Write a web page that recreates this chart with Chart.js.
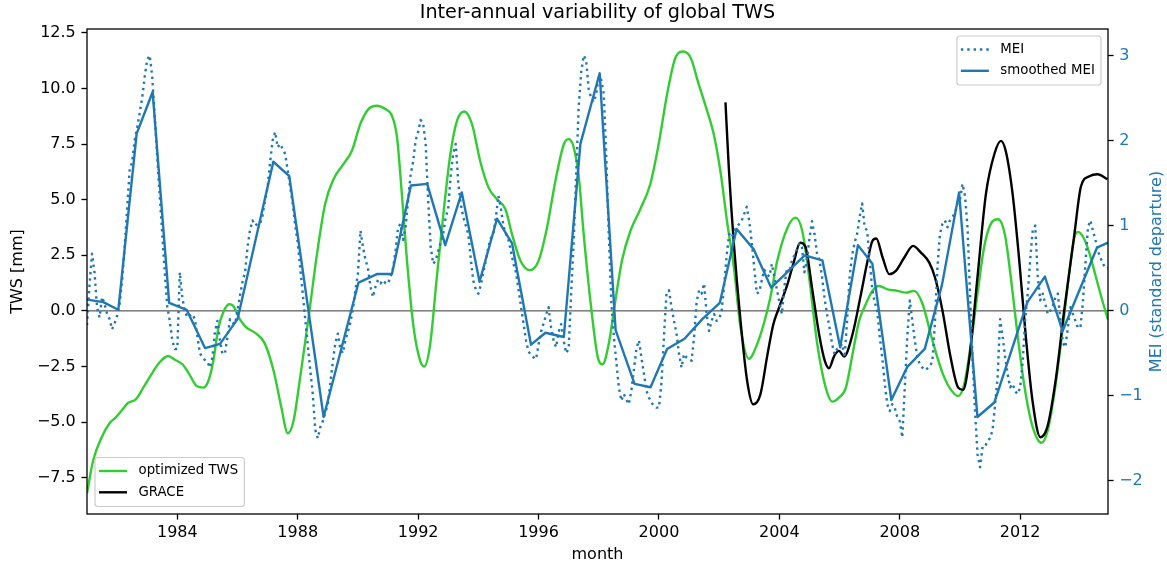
<!DOCTYPE html>
<html>
<head>
<meta charset="utf-8">
<title>Inter-annual variability of global TWS</title>
<script src="https://cdn.jsdelivr.net/npm/chart.js@4/dist/chart.umd.min.js"></script>
<style>
  html, body { margin: 0; padding: 0; background: #fff; }
  #chart { display: block; }
</style>
</head>
<body>
<canvas id="chart" width="1167" height="568"></canvas>
<script>
// axis ticks
const yearTicks = [1984, 1988, 1992, 1996, 2000, 2004, 2008, 2012];
const twsTicks = [-7.5, -5, -2.5, 0, 2.5, 5, 7.5, 10, 12.5];
const meiTicks = [-2, -1, 0, 1, 2, 3];

// monthly MEI, Jan 1981 .. Dec 2014 (one row per year)
const meiFirstYear = 1981;
const meiValues = [
  -0.17, 0.3, 0.67, 0.45, 0.04, -0.08, 0.16, 0.08, -0.04, -0.1, -0.22, -0.15,
  -0.06, 0.08, 0.36, 0.75, 1.2, 1.65, 1.75, 2.0, 2.15, 2.32, 2.5, 2.75,
  2.95, 3.0, 2.75, 2.28, 1.8, 1.35, 0.9, 0.45, 0.05, -0.12, -0.35, -0.45,
  -0.45, 0.45, 0.15, 0.0, -0.08, -0.06, -0.04, -0.1, -0.3, -0.5, -0.55, -0.58,
  -0.6, -0.67, -0.55, -0.25, -0.12, -0.35, -0.51, -0.5, -0.31, -0.1, -0.14, -0.16,
  0.0, 0.18, 0.34, 0.45, 0.75, 0.95, 1.06, 1.0, 1.02, 1.02, 1.12, 1.3,
  1.45, 1.75, 2.0, 2.1, 1.92, 1.96, 1.9, 1.84, 1.65, 1.45, 1.26, 1.0,
  0.8, 0.5, 0.2, -0.1, -0.4, -0.7, -0.98, -1.4, -1.5, -1.37, -1.3, -1.2,
  -1.1, -0.85, -0.6, -0.38, -0.27, -0.45, -0.5, -0.35, -0.25, -0.14, 0.02, 0.24,
  0.43, 0.94, 0.75, 0.6, 0.5, 0.28, 0.16, 0.28, 0.36, 0.32, 0.36, 0.32,
  0.32, 0.4, 0.5, 0.7, 0.98, 1.02, 0.83, 0.98, 1.3, 1.6, 1.75, 2.0,
  2.1, 2.24, 2.2, 1.96, 1.3, 0.75, 0.55, 0.59, 0.7, 0.8, 0.9, 1.1,
  1.2, 1.6, 1.85, 1.96, 1.5, 1.25, 1.1, 1.0, 0.9, 0.6, 0.35, 0.25,
  0.2, 0.3, 0.45, 0.59, 0.75, 0.85, 0.9, 1.1, 1.35, 1.2, 1.0, 0.9,
  0.83, 0.7, 0.55, 0.45, 0.25, 0.05, -0.15, -0.35, -0.48, -0.52, -0.55, -0.57,
  -0.4, -0.25, -0.15, -0.05, 0.04, -0.2, -0.35, -0.43, -0.25, -0.16, -0.35, -0.5,
  -0.45, 0.2, 0.8, 1.6, 2.4, 2.8, 3.0, 2.94, 2.6, 2.5, 2.45, 2.55,
  2.75, 2.71, 2.55, 1.8, 0.9, 0.1, -0.3, -0.6, -0.9, -1.06, -0.98, -1.05,
  -1.1, -0.94, -0.7, -0.45, -0.35, -0.55, -0.74, -0.94, -1.02, -1.08, -1.12, -1.14,
  -1.14, -0.85, -0.3, 0.2, 0.24, 0.04, -0.12, -0.27, -0.51, -0.67, -0.51, -0.55,
  -0.57, -0.59, -0.31, 0.1, 0.24, 0.2, 0.32, -0.04, -0.24, -0.12, -0.04, -0.12,
  -0.1, 0.0, 0.3, 0.65, 0.9, 0.86, 0.94, 0.98, 1.02, 1.06, 1.14, 1.22,
  1.05, 0.8, 0.5, 0.2, 0.22, 0.36, 0.48, 0.43, 0.4, 0.55, 0.4, 0.25,
  0.1, -0.04, 0.28, 0.5, 0.45, 0.59, 0.65, 0.72, 0.79, 0.75, 0.45, 0.6,
  0.85, 1.05, 0.9, 0.67, 0.59, 0.4, 0.15, -0.04, -0.2, -0.39, -0.51, -0.45,
  -0.43, -0.39, -0.55, -0.12, 0.4, 0.65, 0.8, 0.9, 1.1, 1.26, 0.98, 0.94,
  0.6, 0.25, 0.1, 0.0, -0.3, -0.55, -0.85, -1.1, -1.18, -1.1, -1.14, -1.25,
  -1.3, -1.49, -0.9, -0.3, 0.12, -0.12, -0.35, -0.55, -0.63, -0.67, -0.7, -0.68,
  -0.65, -0.6, -0.15, 0.5, 0.9, 1.02, 1.06, 0.98, 1.06, 1.1, 1.15, 1.26,
  1.3, 1.49, 1.35, 0.98, 0.2, -0.55, -1.18, -1.69, -1.84, -1.6, -1.6, -1.53,
  -1.5, -1.4, -1.1, -0.78, -0.1, -0.3, -0.55, -0.75, -0.9, -0.86, -0.95, -0.98,
  -0.9, -0.6, -0.1, 0.2, 0.6, 0.95, 1.0, 0.4, 0.12, 0.2, 0.08, -0.04,
  0.0, 0.05, 0.15, 0.2, -0.1, -0.38, -0.43, -0.2, 0.04, -0.04, -0.12, -0.2,
  -0.2, 0.1, 0.55, 0.98, 1.06, 0.94, 0.83, 0.7, 0.62, 0.55, 0.5, 0.5
];

// smoothed MEI (piecewise linear)
const smoothYears = [
  1981.0, 1981.54, 1982.04, 1982.65, 1983.18, 1983.73, 1984.31, 1984.92, 1985.42, 1986.0,
  1987.19, 1987.72, 1988.86, 1990.02, 1990.63, 1991.13, 1991.76, 1992.3, 1992.9, 1993.45,
  1994.04, 1994.62, 1995.12, 1995.75, 1996.23, 1996.84, 1997.39, 1998.03, 1998.56, 1999.19,
  1999.72, 2000.27, 2000.85, 2001.44, 2002.02, 2002.58, 2003.15, 2003.73, 2004.84, 2005.43,
  2006.02, 2006.61, 2007.09, 2007.72, 2008.25, 2008.83, 2009.4, 2009.97, 2010.58, 2011.14,
  2012.24, 2012.82, 2013.41, 2014.55, 2014.917
];
const smoothValues = [
  0.13, 0.10, 0.01, 2.08, 2.57, 0.09, 0.01, -0.44, -0.39, -0.10,
  1.75, 1.58, -1.25, 0.33, 0.43, 0.43, 1.47, 1.49, 0.77, 1.39,
  0.34, 1.08, 0.79, -0.40, -0.26, -0.31, 1.96, 2.79, -0.23, -0.86,
  -0.90, -0.45, -0.33, -0.10, 0.09, 0.96, 0.72, 0.27, 0.65, 0.59,
  -0.43, 0.77, 0.55, -1.05, -0.66, -0.45, 0.30, 1.39, -1.25, -1.08,
  0.10, 0.40, -0.24, 0.74, 0.80
];

// optimized TWS [mm]
const twsYears = [
  1981.0, 1981.2, 1981.48, 1981.76, 1981.95, 1982.14, 1982.37, 1982.62, 1982.87, 1983.14,
  1983.42, 1983.7, 1983.92, 1984.17, 1984.4, 1984.64, 1984.86, 1985.03, 1985.19, 1985.36,
  1985.53, 1985.72, 1985.86, 1986.08, 1986.3, 1986.6, 1986.9, 1987.2, 1987.45, 1987.67,
  1987.86, 1988.08, 1988.36, 1988.64, 1988.91, 1989.19, 1989.52, 1989.8, 1990.08, 1990.35,
  1990.63, 1990.91, 1991.13, 1991.3, 1991.46, 1991.63, 1991.85, 1992.07, 1992.2, 1992.4,
  1992.62, 1992.85, 1993.07, 1993.29, 1993.53, 1993.79, 1994.06, 1994.34, 1994.62, 1994.9,
  1995.12, 1995.4, 1995.71, 1996.0, 1996.28, 1996.56, 1996.84, 1997.0, 1997.17, 1997.34,
  1997.5, 1997.76, 1997.97, 1998.13, 1998.33, 1998.55, 1998.77, 1999.05, 1999.38, 1999.71,
  1999.99, 2000.27, 2000.55, 2000.8, 2001.05, 2001.32, 2001.6, 2001.82, 2002.04, 2002.26,
  2002.49, 2002.71, 2002.99, 2003.26, 2003.5, 2003.7, 2003.93, 2004.27, 2004.54, 2004.76,
  2004.99, 2005.26, 2005.54, 2005.76, 2005.98, 2006.21, 2006.43, 2006.65, 2006.87, 2007.09,
  2007.31, 2007.59, 2007.92, 2008.2, 2008.48, 2008.76, 2009.03, 2009.25, 2009.45, 2009.69,
  2009.94, 2010.14, 2010.36, 2010.58, 2010.8, 2011.02, 2011.27, 2011.49, 2011.69, 2011.91,
  2012.13, 2012.36, 2012.58, 2012.71, 2012.91, 2013.13, 2013.35, 2013.57, 2013.8, 2013.92,
  2014.1, 2014.3, 2014.5, 2014.7, 2014.917
];
const twsValues = [
  -8.2, -6.75, -5.7, -5.03, -4.8, -4.5, -4.13, -3.98, -3.45, -2.85,
  -2.3, -2.03, -2.2, -2.4, -2.85, -3.38, -3.45, -3.15, -2.3, -0.8,
  -0.05, 0.3, 0.22, -0.38, -0.75, -1.0, -1.45, -2.7, -4.3, -5.5,
  -4.95, -3.0, -0.3, 2.55, 4.8, 5.92, 6.6, 7.2, 8.4, 9.07,
  9.22, 9.07, 8.77, 7.79, 5.24, 2.25, -0.75, -2.25, -2.5, -1.5,
  1.5, 4.5, 7.04, 8.54, 8.96, 8.39, 6.74, 5.54, 5.02, 4.57,
  3.44, 2.25, 1.83, 2.25, 3.74, 5.84, 7.49, 7.72, 7.34, 5.99,
  3.44, 0.0, -2.1, -2.4, -1.5, 0.45, 2.25, 3.59, 4.57, 5.69,
  7.49, 9.74, 11.39, 11.66, 11.39, 10.19, 8.99, 7.94, 6.29, 4.04,
  1.94, -0.75, -2.15, -1.5, -0.5, 0.6, 2.25, 3.74, 4.19, 3.59,
  1.5, -1.5, -3.45, -4.08, -3.9, -3.45, -1.95, -0.45, 0.3, 0.9,
  1.12, 0.97, 0.9, 0.82, 0.9, 0.3, -1.05, -2.1, -2.9, -3.53,
  -3.83, -3.3, -1.5, 0.75, 2.85, 3.9, 4.12, 3.44, 1.5, -1.05,
  -3.3, -4.95, -5.78, -5.93, -5.4, -3.75, -1.5, 1.05, 3.3, 3.55,
  3.3, 2.6, 1.6, 0.6, -0.4
];

// GRACE [mm]
const graceYears = [
  2002.21, 2002.32, 2002.49, 2002.71, 2002.93, 2003.13, 2003.37, 2003.6, 2003.8, 2003.99,
  2004.27, 2004.49, 2004.69, 2004.86, 2005.1, 2005.32, 2005.51, 2005.65, 2005.82, 2005.98,
  2006.15, 2006.43, 2006.71, 2006.93, 2007.09, 2007.22, 2007.43, 2007.65, 2007.87, 2008.15,
  2008.44, 2008.7, 2008.98, 2009.17, 2009.42, 2009.69, 2009.94, 2010.1, 2010.3, 2010.58,
  2010.86, 2011.14, 2011.36, 2011.52, 2011.75, 2011.97, 2012.19, 2012.41, 2012.67, 2012.91,
  2013.19, 2013.46, 2013.8, 2014.02, 2014.3, 2014.57, 2014.9
];
const graceValues = [
  9.37, 6.44, 2.99, -0.45, -3.15, -4.2, -3.75, -2.0, -0.6, 0.15,
  1.2, 2.25, 3.07, 2.9, 0.9, -1.05, -2.25, -2.58, -2.03, -1.8,
  -2.05, -1.05, 0.75, 2.25, 3.14, 3.25, 2.4, 1.65, 1.8, 2.4,
  2.92, 2.62, 2.17, 1.5, 0.0, -2.1, -3.45, -3.55, -2.25, 1.5,
  5.24, 7.04, 7.64, 7.19, 5.24, 2.25, -1.2, -4.05, -5.68, -5.18,
  -3.0, 0.0, 3.44, 5.6, 6.05, 6.14, 5.92
];

const X_MIN = 1981.0, X_MAX = 2014.917;
const FONT = "'DejaVu Sans', sans-serif";
const BLUE = '#1f77b4';
const GREEN = '#32cd32';
const LW = 2.4;

function toPoints(xs, ys) {
  return xs.map((x, i) => ({ x: x, y: ys[i] }));
}
const meiPoints = meiValues.map((v, i) => ({ x: meiFirstYear + i / 12, y: v }));

function minus(s) { return s.replace('-', '\u2212'); }

function tickGrid() {
  return { display: true, drawOnChartArea: false, drawTicks: true,
           tickLength: 5.6, tickWidth: 1.3, tickColor: '#000' };
}

function drawLegend(ctx, left, top, entries) {
  ctx.font = `13.3px ${FONT}`;
  const textW = Math.max(...entries.map(e => ctx.measureText(e.label).width));
  const w = 5.3 + 26.7 + 10.7 + textW + 7;
  const h = 49;
  ctx.save();
  ctx.beginPath();
  ctx.roundRect(left, top, w, h, 3);
  ctx.fillStyle = 'rgba(255,255,255,0.8)';
  ctx.fill();
  ctx.strokeStyle = '#cccccc';
  ctx.lineWidth = 1.2;
  ctx.stroke();
  entries.forEach((e, i) => {
    const y = top + 13.5 + i * 21.3;
    ctx.beginPath();
    ctx.setLineDash(e.dash || []);
    ctx.lineCap = 'butt';
    ctx.strokeStyle = e.color;
    ctx.lineWidth = LW;
    ctx.moveTo(left + 4, y);
    ctx.lineTo(left + 32, y);
    ctx.stroke();
    ctx.setLineDash([]);
    ctx.fillStyle = '#000';
    ctx.textAlign = 'left';
    ctx.textBaseline = 'middle';
    ctx.fillText(e.label, left + 43.5, y);
  });
  ctx.restore();
  return w;
}

// frame, titles and the two legends
const decorations = {
  id: 'decorations',
  afterDatasetsDraw(chart) {
    const { ctx, chartArea: a } = chart;
    ctx.save();
    ctx.strokeStyle = '#000';
    ctx.lineWidth = 1.3;
    ctx.strokeRect(a.left, a.top, a.right - a.left, a.bottom - a.top);
    ctx.restore();
  },
  afterDraw(chart) {
    const { ctx, chartArea: a } = chart;
    const midX = (a.left + a.right) / 2;
    const midY = (a.top + a.bottom) / 2;
    ctx.save();
    ctx.textAlign = 'center';
    ctx.textBaseline = 'middle';
    ctx.fillStyle = '#000';
    ctx.font = `19.2px ${FONT}`;
    ctx.fillText('Inter-annual variability of global TWS', midX, 13);
    ctx.font = `16px ${FONT}`;
    ctx.fillText('month', midX, 555);

    ctx.save();
    ctx.translate(18, midY);
    ctx.rotate(-Math.PI / 2);
    ctx.fillText('TWS [mm]', 0, 0);
    ctx.restore();

    ctx.save();
    ctx.translate(1157, midY);
    ctx.rotate(-Math.PI / 2);
    ctx.fillStyle = BLUE;
    ctx.fillText('MEI (standard departure)', 0, 0);
    ctx.restore();
    ctx.restore();

    // upper right: MEI legend
    ctx.font = `13.3px ${FONT}`;
    const rightEntries = [
      { label: 'MEI', color: BLUE, dash: [2.4, 3.96] },
      { label: 'smoothed MEI', color: BLUE }
    ];
    const tw = Math.max(...rightEntries.map(e => ctx.measureText(e.label).width));
    const rw = 5.3 + 26.7 + 10.7 + tw + 7;
    drawLegend(ctx, a.right - 7 - rw, a.top + 7, rightEntries);

    // lower left: TWS legend
    drawLegend(ctx, a.left + 8, a.bottom - 7.5 - 49, [
      { label: 'optimized TWS', color: GREEN },
      { label: 'GRACE', color: '#000' }
    ]);
  }
};

new Chart(document.getElementById('chart'), {
  type: 'line',
  data: {
    datasets: [
      { label: 'smoothed MEI', data: toPoints(smoothYears, smoothValues), yAxisID: 'y1',
        borderColor: BLUE, borderWidth: LW },
      { label: 'MEI', data: meiPoints, yAxisID: 'y1',
        borderColor: BLUE, borderWidth: LW, borderDash: [2.4, 3.96] },
      { label: 'GRACE', data: toPoints(graceYears, graceValues), yAxisID: 'y',
        borderColor: '#000', borderWidth: LW, tension: 0.4, cubicInterpolationMode: 'monotone' },
      { label: 'optimized TWS', data: toPoints(twsYears, twsValues), yAxisID: 'y',
        borderColor: GREEN, borderWidth: LW, tension: 0.4, cubicInterpolationMode: 'monotone' },
      { label: 'zero', data: [{ x: X_MIN, y: 0 }, { x: X_MAX, y: 0 }], yAxisID: 'y',
        borderColor: '#000', borderWidth: 0.8 }
    ]
  },
  options: {
    responsive: false,
    animation: false,
    devicePixelRatio: 1,
    layout: { padding: { top: 29, left: 0, right: 0, bottom: 0 } },
    elements: {
      point: { radius: 0 },
      line: { tension: 0, fill: false, borderCapStyle: 'butt', borderJoinStyle: 'round' }
    },
    plugins: { legend: { display: false }, title: { display: false }, tooltip: { enabled: false } },
    scales: {
      x: {
        type: 'linear', min: X_MIN, max: X_MAX,
        afterBuildTicks: s => { s.ticks = yearTicks.map(v => ({ value: v })); },
        afterFit: s => { s.height = 54; },
        grid: tickGrid(),
        border: { display: false },
        ticks: { font: { family: FONT, size: 16 }, color: '#000', padding: 4,
                 maxRotation: 0, autoSkip: false, callback: v => String(v) }
      },
      y: {
        type: 'linear', position: 'left', min: -9.13, max: 12.67,
        afterBuildTicks: s => { s.ticks = twsTicks.map(v => ({ value: v })); },
        afterFit: s => { s.width = 87; },
        grid: tickGrid(),
        border: { display: false },
        ticks: { font: { family: FONT, size: 16 }, color: '#000', padding: 5.6,
                 autoSkip: false, callback: v => minus(v.toFixed(1)) }
      },
      y1: {
        type: 'linear', position: 'right', min: -2.39, max: 3.31,
        afterBuildTicks: s => { s.ticks = meiTicks.map(v => ({ value: v })); },
        afterFit: s => { s.width = 59; },
        grid: tickGrid(),
        border: { display: false },
        ticks: { font: { family: FONT, size: 16 }, color: BLUE, padding: 5.6,
                 autoSkip: false, callback: v => minus(String(v)) }
      }
    }
  },
  plugins: [decorations]
});
</script>
</body>
</html>
